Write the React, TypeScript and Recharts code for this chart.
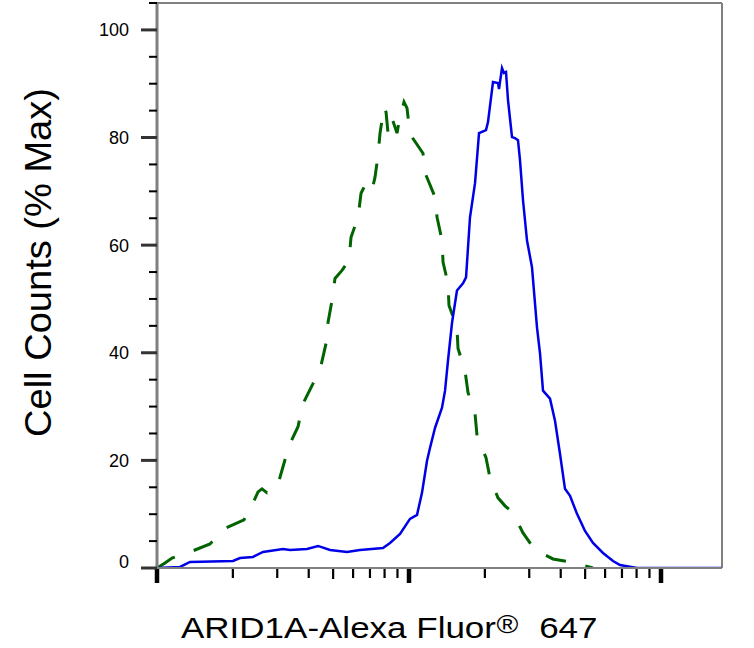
import React from 'react';
import { LineChart, Line, XAxis, YAxis, ReferenceLine, Label } from 'recharts';

// x axis: log-scaled fluorescence intensity (decades), no numeric labels shown
const xDomain = [1, 174.6];
const xTicks = [1, 2, 3, 4, 5, 6, 7, 8, 9, 10, 20, 30, 40, 50, 60, 70, 80, 90, 100];
const xMajorTicks = [1, 10, 100];
const xMidTicks = [5, 50];

// y axis: % of max
const yDomain = [0, 105];
const yTicks = [0, 5, 10, 15, 20, 25, 30, 35, 40, 45, 50, 55, 60, 65, 70, 75, 80, 85, 90, 95, 100, 105];
const yLabelTicks = [0, 20, 40, 60, 80, 100];

// isotype control (green dashed)
const greenX = [1.0, 1.076, 1.147, 1.352, 1.623, 1.844, 2.214, 2.426, 2.517, 2.61, 2.733, 2.86, 2.994, 3.162, 3.341, 3.627, 3.796, 4.159, 4.475, 4.685, 4.771, 4.949, 5.086, 5.422, 5.78, 5.887, 6.277, 6.451, 6.753, 7.133, 7.331, 7.535, 7.674, 7.96, 8.107, 8.257, 8.56, 8.962, 9.127, 9.555, 9.82, 10.09, 11.36, 11.68, 12.69, 12.92, 13.52, 13.65, 14.28, 14.41, 15.5, 15.65, 16.68, 17.15, 18.28, 18.62, 20.21, 20.96, 22.55, 24.04, 25.86, 28.34, 31.62, 37.27, 45.58, 53.73];
const greenY = [0, 0.93, 1.86, 2.98, 4.47, 7.26, 8.94, 12.48, 14.15, 14.71, 13.97, 14.34, 14.9, 18.81, 22.72, 26.26, 30.54, 34.26, 37.62, 41.71, 45.62, 49.72, 53.82, 55.31, 57.17, 61.45, 65.18, 69.65, 71.51, 70.2, 72.63, 76.72, 80.82, 85.66, 84.73, 80.82, 83.61, 80.82, 82.87, 86.59, 85.47, 80.63, 77.09, 73.0, 68.9, 65.18, 60.89, 56.8, 52.89, 48.79, 44.69, 40.78, 36.69, 32.59, 28.68, 24.58, 20.48, 16.76, 13.04, 11.55, 10.24, 6.52, 3.35, 1.68, 0.93, 0];

// ARID1A stained (blue solid)
const blueX = [1.0, 1.234, 1.352, 2.003, 2.135, 2.404, 2.634, 3.162, 3.372, 3.937, 4.355, 4.86, 5.675, 6.391, 7.886, 8.408, 9.212, 10.09, 10.76, 11.26, 11.79, 12.12, 12.69, 13.52, 13.9, 14.28, 14.82, 15.5, 16.38, 16.84, 17.46, 18.28, 18.96, 20.21, 20.58, 21.54, 22.55, 22.76, 23.39, 23.82, 24.26, 24.71, 25.63, 26.34, 27.07, 27.57, 28.34, 29.39, 30.77, 32.21, 33.11, 34.02, 36.27, 37.96, 39.73, 41.59, 43.55, 46.42, 49.94, 53.73, 58.87, 64.5, 68.76, 80.3, 174.6];
const blueY = [0, 0.19, 1.12, 1.3, 1.86, 2.05, 2.98, 3.54, 3.35, 3.54, 4.1, 3.35, 2.98, 3.35, 3.72, 4.66, 6.33, 9.12, 9.87, 13.97, 19.93, 22.35, 26.07, 29.8, 32.96, 38.55, 45.62, 51.58, 52.89, 54.0, 65.18, 71.51, 80.82, 81.38, 82.87, 90.32, 90.13, 89.01, 92.92, 91.99, 92.18, 86.96, 80.07, 79.89, 79.52, 75.79, 68.34, 60.89, 55.87, 44.69, 39.85, 32.96, 31.47, 27.37, 21.23, 14.71, 13.41, 10.06, 6.89, 4.66, 2.79, 1.3, 0.56, 0, 0];

const xTitle = 'ARID1A-Alexa Fluor';
const xTitleMark = '®';
const xTitleTail = '647';
const yTitle = 'Cell Counts (% Max)';

const greenData = greenX.map((x, i) => ({ x, y: greenY[i] }));
const blueData = blueX.map((x, i) => ({ x, y: blueY[i] }));

const FONT = '"Liberation Sans", Arial, Helvetica, sans-serif';
const AXIS_GREY = '#808080';

const XTick = (props: any) => {
  const { x, y, payload } = props;
  const v = payload.value;
  const major = xMajorTicks.includes(v);
  const mid = xMidTicks.includes(v);
  const len = major ? 14 : mid ? 10 : 9;
  const w = major ? 4.5 : 2.2;
  return <line x1={x} x2={x} y1={y + 1} y2={y + 1 + len} stroke="#000" strokeWidth={w} />;
};

const YTick = (props: any) => {
  const { x, y, payload } = props;
  const v = payload.value;
  if (yLabelTicks.includes(v)) {
    return (
      <g>
        <line x1={x - 16} x2={x} y1={y} y2={y} stroke="#333" strokeWidth={3} />
        <text
          x={x - 28}
          y={y + 6.5 - (v === 0 ? 7 : 0)}
          textAnchor="end"
          fontFamily={FONT}
          fontSize={18}
          fill="#000"
        >
          {v}
        </text>
      </g>
    );
  }
  return <line x1={x - 8} x2={x} y1={y} y2={y} stroke="#000" strokeWidth={2} />;
};

const XLabel = () => (
  <g transform="translate(181,638) scale(1.186,1)">
    <text x={0} y={0} fontFamily={FONT} fontSize={29.5} fill="#000">
      <tspan x={0} y={0}>{xTitle}</tspan>
      <tspan x={266} y={-5} fontSize={25}>{xTitleMark}</tspan>
      <tspan x={302} y={0}>{xTitleTail}</tspan>
    </text>
  </g>
);

const YLabel = () => (
  <text
    transform="translate(51.3,262.5) rotate(-90)"
    textAnchor="middle"
    fontFamily={FONT}
    fontSize={36}
    textLength={349}
    lengthAdjust="spacingAndGlyphs"
    fill="#000"
  >
    {yTitle}
  </text>
);

export default function App() {
  return (
    <div style={{ position: 'absolute', left: 0, top: 0, width: 754, height: 648, background: '#fff' }}>
      <LineChart width={754} height={648} margin={{ top: 3, right: 32, bottom: 50, left: 97 }}>
        <XAxis
          dataKey="x"
          type="number"
          scale="log"
          domain={xDomain}
          allowDataOverflow
          ticks={xTicks}
          interval={0}
          tick={<XTick />}
          tickLine={false}
          tickSize={0}
          tickMargin={0}
          height={30}
          axisLine={{ stroke: AXIS_GREY, strokeWidth: 2 }}
        >
          <Label content={<XLabel />} />
        </XAxis>
        <YAxis
          type="number"
          domain={yDomain}
          allowDataOverflow
          ticks={yTicks}
          interval={0}
          tick={<YTick />}
          tickLine={false}
          tickSize={0}
          tickMargin={0}
          width={60}
          axisLine={{ stroke: AXIS_GREY, strokeWidth: 3 }}
        >
          <Label content={<YLabel />} />
        </YAxis>
        <ReferenceLine y={105} stroke={AXIS_GREY} strokeWidth={2} />
        <ReferenceLine x={174.6} stroke={AXIS_GREY} strokeWidth={2} />
        <Line
          data={greenData}
          dataKey="y"
          type="linear"
          stroke="#006400"
          strokeWidth={3}
          strokeDasharray="21 20"
          dot={false}
          activeDot={false}
          isAnimationActive={false}
        />
        <Line
          data={blueData}
          dataKey="y"
          type="linear"
          stroke="#0000e6"
          strokeWidth={2.5}
          dot={false}
          activeDot={false}
          isAnimationActive={false}
        />
      </LineChart>
    </div>
  );
}
